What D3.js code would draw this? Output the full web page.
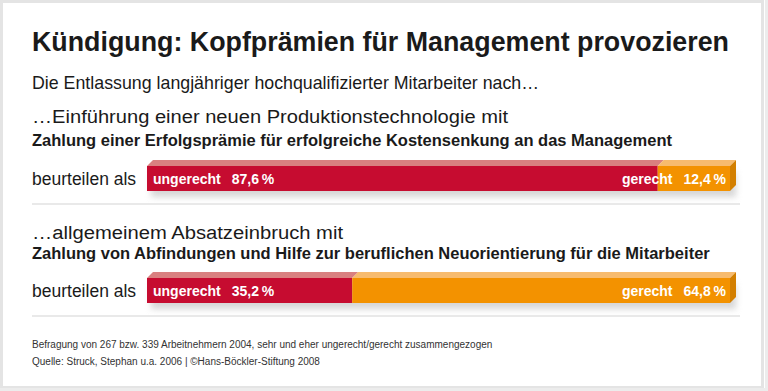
<!DOCTYPE html>
<meta charset="utf-8">
<script src="https://d3js.org/d3.v7.min.js"></script>
<style>
  body { margin: 0; background: #fff; }
  svg text { font-family: "Liberation Sans", Arial, sans-serif; }
</style>
<div id="chart"></div>
<script>
  // data
  const title = "Kündigung: Kopfprämien für Management provozieren"
  const subtitle = "Die Entlassung langjähriger hochqualifizierter Mitarbeiter nach\u2026"
  const leadLines = ["\u2026Einführung einer neuen Produktionstechnologie mit", "\u2026allgemeinem Absatzeinbruch mit"]
  const boldLines = ["Zahlung einer Erfolgsprämie für erfolgreiche Kostensenkung an das Management",
    "Zahlung von Abfindungen und Hilfe zur beruflichen Neuorientierung für die Mitarbeiter"]
  const ungerecht = [87.6, 35.2]
  const gerecht = [12.4, 64.8]
  const footer = ["Befragung von 267 bzw. 339 Arbeitnehmern 2004, sehr und eher ungerecht/gerecht zusammengezogen",
    "Quelle: Struck, Stephan u.a. 2006 | \u00a9Hans-Böckler-Stiftung 2008"]

  const width = 768, height = 391
  const svg = d3.select("#chart").append("svg")
    .attr("width", width).attr("height", height)

  // frame
  svg.append("rect").attr("x", 1.5).attr("y", 1.5).attr("width", 761).attr("height", 386)
    .attr("fill", "#fff").attr("stroke", "#e4e4e4").attr("stroke-width", 3)
  svg.append("line").attr("x1", 766.5).attr("x2", 766.5).attr("y1", 0).attr("y2", height)
    .attr("stroke", "#ececec").attr("stroke-width", 3)
  svg.append("line").attr("x1", 0).attr("x2", width).attr("y1", 389.5).attr("y2", 389.5)
    .attr("stroke", "#ececec").attr("stroke-width", 3)

  const defs = svg.append("defs")
  const f = defs.append("filter").attr("id", "shadow").attr("x", "-5%").attr("y", "-50%").attr("width", "110%").attr("height", "200%")
  f.append("feGaussianBlur").attr("stdDeviation", 3)

  const ink = "#1a1a1a"

  // titles
  svg.append("text").attr("x", 32).attr("y", 51).text(title)
    .style("font-size", "28px").style("font-weight", "bold").attr("fill", ink)
    .attr("textLength", 697).attr("lengthAdjust", "spacingAndGlyphs")
  svg.append("text").attr("x", 32).attr("y", 89).text(subtitle)
    .style("font-size", "17.8px").attr("fill", ink)

  const x = d3.scaleLinear().domain([0, 100]).range([147, 730])
  const leadY = [123, 239]
  const leadW = [476, 311]
  const boldY = [146, 259]
  const barY = [166, 278]    // top of front face
  const depth = 6, barH = 25
  const colors = {
    red: "#c60c30", redTop: "#d98080", orange: "#f39200", orangeTop: "#f7bb6e", orangeSide: "#d37f00"
  }
  const pct = v => d3.format(".1f")(v).replace(".", ",")

  ungerecht.forEach(function (u, i) {
    svg.append("text").attr("x", 32).attr("y", leadY[i]).text(leadLines[i])
      .style("font-size", "18.8px").attr("fill", ink)
      .attr("textLength", leadW[i]).attr("lengthAdjust", "spacingAndGlyphs")
    svg.append("text").attr("x", 32).attr("y", boldY[i]).text(boldLines[i])
      .style("font-size", "16.5px").style("font-weight", "bold").attr("fill", ink)
    svg.append("text").attr("x", 32).attr("y", barY[i] + 19).text("beurteilen als")
      .style("font-size", "17.5px").attr("fill", ink)

    const y0 = barY[i]
    const xs = x(0), xm = x(u), xe = x(u + gerecht[i])
    const g = svg.append("g")
    // shadow
    g.append("rect").attr("x", xs + 4).attr("y", y0 + 6).attr("width", xe - xs + 2).attr("height", barH)
      .attr("fill", "#bbb").attr("filter", "url(#shadow)").attr("opacity", 0.6)
    // top faces
    g.append("path").attr("d", `M${xs},${y0} L${xs + depth},${y0 - depth} L${xm + depth},${y0 - depth} L${xm},${y0} Z`)
      .attr("fill", colors.redTop)
    g.append("path").attr("d", `M${xm},${y0} L${xm + depth},${y0 - depth} L${xe + depth},${y0 - depth} L${xe},${y0} Z`)
      .attr("fill", colors.orangeTop)
    // side
    g.append("path").attr("d", `M${xe},${y0} L${xe + depth},${y0 - depth} L${xe + depth},${y0 + barH - depth} L${xe},${y0 + barH} Z`)
      .attr("fill", colors.orangeSide)
    // fronts
    g.append("rect").attr("x", xs).attr("y", y0).attr("width", xm - xs).attr("height", barH).attr("fill", colors.red)
    g.append("rect").attr("x", xm).attr("y", y0).attr("width", xe - xm).attr("height", barH).attr("fill", colors.orange)
    // labels
    const l1 = g.append("text").attr("x", xs + 6).attr("y", y0 + 18)
      .style("font-size", "14px").style("font-weight", "bold").attr("fill", "#fff")
    l1.append("tspan").text("ungerecht")
    l1.append("tspan").attr("dx", 11).text(pct(u) + "\u2009%")
    const l2 = g.append("text").attr("x", xe - 4).attr("y", y0 + 18).attr("text-anchor", "end")
      .style("font-size", "14px").style("font-weight", "bold").attr("fill", "#fff")
    l2.append("tspan").text("gerecht")
    l2.append("tspan").attr("dx", 11).text(pct(gerecht[i]) + "\u2009%")
    // separator
    g.append("line").attr("x1", 32).attr("x2", 740).attr("y1", y0 + 38).attr("y2", y0 + 38)
      .attr("stroke", "#e2e2e2").attr("stroke-width", 1.5)
  })

  footer.forEach(function (t, i) {
    svg.append("text").attr("x", 32).attr("y", 348 + i * 17).text(t)
      .style("font-size", "10px").attr("fill", "#333")
  })
</script>
